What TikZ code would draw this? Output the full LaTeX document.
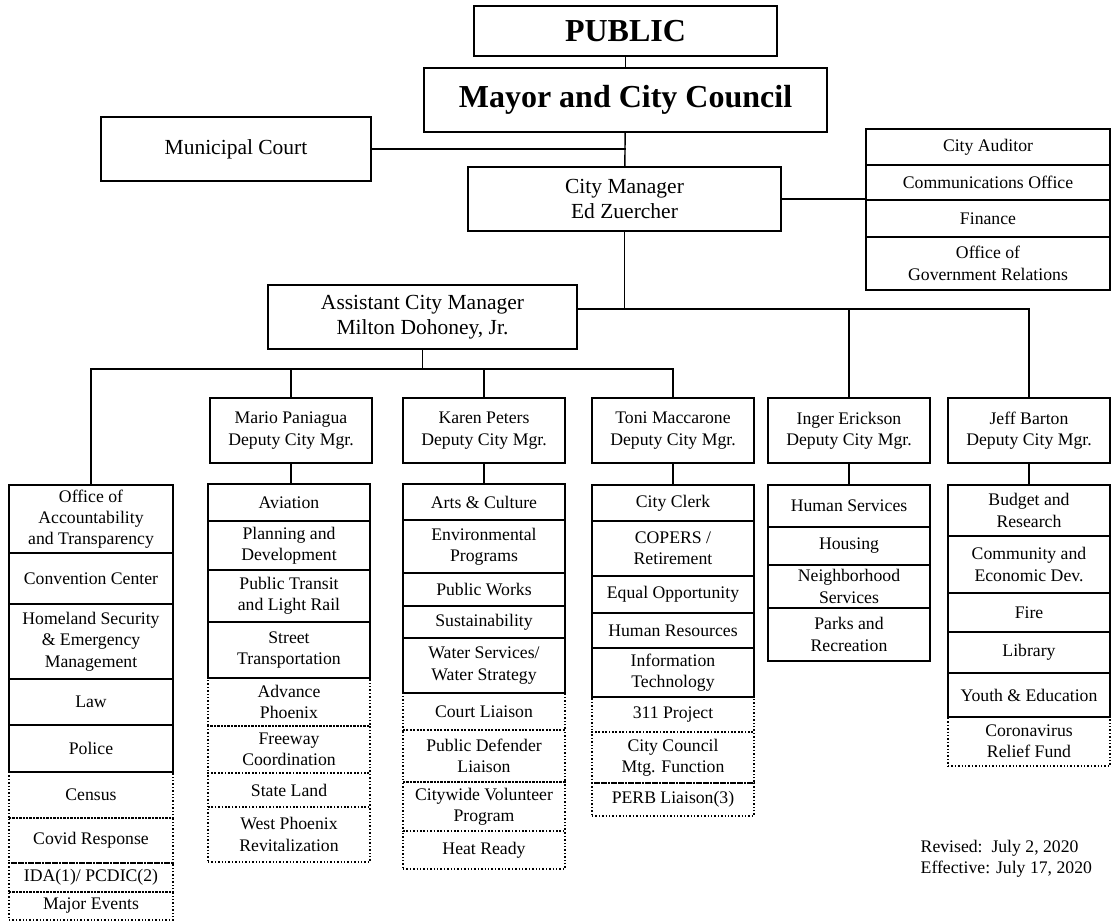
\documentclass[tikz,border=0pt]{standalone}
\usepackage{fontspec}
\setmainfont{Liberation Serif}
\usetikzlibrary{positioning}
\newcommand\bodyfont{\fontsize{17.7}{21.3}\selectfont}
\newcommand\midfont{\fontsize{21.5}{24.7}\selectfont}
\newcommand\headfont{\fontsize{32}{38}\selectfont\bfseries}

\begin{document}
\begin{tikzpicture}[x=1pt,y=-1pt,line width=1.4pt,
  orgbox/.style={draw,outer sep=0pt,inner sep=1pt,align=center,font=\bodyfont,minimum width=162},
  dotbox/.style={orgbox,dotted},
  midbox/.style={orgbox,font=\midfont,minimum height=64},
  headbox/.style={orgbox,font=\headfont}]
\useasboundingbox (0,0) rectangle (1112,921);
% top of the chart
\node[headbox,minimum width=303,minimum height=50] (public) at (625.5,31) {PUBLIC};
\node[headbox,minimum width=403,minimum height=64] (council) at (625.5,100) {Mayor and City Council};
\node[midbox,minimum width=270] (court) at (236,149) {Municipal Court};
\node[midbox,minimum width=313] (cm) at (624.5,199) {City Manager\\Ed Zuercher};
\node[midbox,minimum width=309] (acm) at (422.5,317) {Assistant City Manager\\Milton Dohoney, Jr.};
\draw (public) -- (council);
\draw (council) -- (cm);
\draw (court.east) -- (court.east -| council.south);
% offices of the city manager
\node[orgbox,minimum width=244,minimum height=36,anchor=north] (auditor) at (988,129) {City Auditor};
\node[orgbox,minimum width=244,minimum height=35,below=0pt of auditor] (comm) {Communications Office};
\node[orgbox,minimum width=244,minimum height=37,below=0pt of comm] (finance) {Finance};
\node[orgbox,minimum width=244,minimum height=53,below=0pt of finance] (ogr) {Office of\\Government Relations};
\draw (cm.east) -- (cm.east -| auditor.west);
% deputies
\node[orgbox,minimum height=65] (mario) at (291,430.5) {Mario Paniagua\\Deputy City Mgr.};
\node[orgbox,minimum height=65] (karen) at (484,430.5) {Karen Peters\\Deputy City Mgr.};
\node[orgbox,minimum height=65] (toni) at (673,430.5) {Toni Maccarone\\Deputy City Mgr.};
\node[orgbox,minimum height=65] (inger) at (849,430.5) {Inger Erickson\\Deputy City Mgr.};
\node[orgbox,minimum height=65] (jeff) at (1029,430.5) {Jeff Barton\\Deputy City Mgr.};
\coordinate (busA) at ([yshift=-78pt]cm.south);
\coordinate (busB) at ([yshift=-20pt]acm.south);
\draw (cm.south) -- (busA);
\draw (acm.east |- busA) -- (busA -| jeff.north) -- (jeff.north);
\draw (busA -| inger.north) -- (inger.north);
% office of the assistant city manager
\node[orgbox,minimum width=164,minimum height=68,anchor=north] (oa1) at (91,485) {Office of\\Accountability\\and Transparency};
\node[orgbox,minimum width=164,minimum height=51,below=0pt of oa1] (oa2) {Convention Center};
\node[orgbox,minimum width=164,minimum height=75,below=0pt of oa2] (oa3) {Homeland Security\\\& Emergency\\Management};
\node[orgbox,minimum width=164,minimum height=46,below=0pt of oa3] (oa4) {Law};
\node[orgbox,minimum width=164,minimum height=47,below=0pt of oa4] (oa5) {Police};
\node[dotbox,minimum width=164,minimum height=46,below=0pt of oa5] (oa6) {Census};
\node[dotbox,minimum width=164,minimum height=45,below=0pt of oa6] (oa7) {Covid Response};
\node[dotbox,minimum width=164,minimum height=29,below=0pt of oa7] (oa8) {IDA(1)/ PCDIC(2)};
\node[dotbox,minimum width=164,minimum height=28,below=0pt of oa8] (oa9) {Major Events};
\draw (acm.south) -- (busB);
\draw (oa1.north) |- (busB -| toni.north) -- (toni.north);
\draw (busB -| mario.north) -- (mario.north);
\draw (busB -| karen.north) -- (karen.north);
% Paniagua
\node[orgbox,minimum height=37,anchor=north] (mp1) at (289,484) {Aviation};
\node[orgbox,minimum height=49,below=0pt of mp1] (mp2) {Planning and\\Development};
\node[orgbox,minimum height=52,below=0pt of mp2] (mp3) {Public Transit\\and Light Rail};
\node[orgbox,minimum height=56,below=0pt of mp3] (mp4) {Street\\Transportation};
\node[dotbox,minimum height=48,below=0pt of mp4] (mp5) {Advance\\Phoenix};
\node[dotbox,minimum height=47,below=0pt of mp5] (mp6) {Freeway\\Coordination};
\node[dotbox,minimum height=34,below=0pt of mp6] (mp7) {State Land};
\node[dotbox,minimum height=55,below=0pt of mp7] (mp8) {West Phoenix\\Revitalization};
\draw (mario.south) -- (mario.south |- mp1.north);
% Peters
\node[orgbox,minimum height=36,anchor=north] (kp1) at (484,484) {Arts \& Culture};
\node[orgbox,minimum height=53,below=0pt of kp1] (kp2) {Environmental\\Programs};
\node[orgbox,minimum height=33,below=0pt of kp2] (kp3) {Public Works};
\node[orgbox,minimum height=32,below=0pt of kp3] (kp4) {Sustainability};
\node[orgbox,minimum height=55,below=0pt of kp4] (kp5) {Water Services/\\Water Strategy};
\node[dotbox,minimum height=37,below=0pt of kp5] (kp6) {Court Liaison};
\node[dotbox,minimum height=52,below=0pt of kp6] (kp7) {Public Defender\\Liaison};
\node[dotbox,minimum height=49,below=0pt of kp7] (kp8) {Citywide Volunteer\\Program};
\node[dotbox,minimum height=38,below=0pt of kp8] (kp9) {Heat Ready};
\draw (karen) -- (kp1);
% Maccarone
\node[orgbox,minimum height=36,anchor=north] (tm1) at (673,485) {City Clerk};
\node[orgbox,minimum height=55,below=0pt of tm1] (tm2) {COPERS /\\Retirement};
\node[orgbox,minimum height=37,below=0pt of tm2] (tm3) {Equal Opportunity};
\node[orgbox,minimum height=35,below=0pt of tm3] (tm4) {Human Resources};
\node[orgbox,minimum height=49,below=0pt of tm4] (tm5) {Information\\Technology};
\node[dotbox,minimum height=35,below=0pt of tm5] (tm6) {311 Project};
\node[dotbox,minimum height=51,below=0pt of tm6] (tm7) {City Council\\Mtg. Function};
\node[dotbox,minimum height=33,below=0pt of tm7] (tm8) {PERB Liaison(3)};
\draw (toni) -- (tm1);
% Erickson
\node[orgbox,minimum height=42,anchor=north] (ie1) at (849,485) {Human Services};
\node[orgbox,minimum height=38,below=0pt of ie1] (ie2) {Housing};
\node[orgbox,minimum height=43,below=0pt of ie2] (ie3) {Neighborhood\\Services};
\node[orgbox,minimum height=53,below=0pt of ie3] (ie4) {Parks and\\Recreation};
\draw (inger) -- (ie1);
% Barton
\node[orgbox,minimum height=51,anchor=north] (jb1) at (1029,485) {Budget and\\Research};
\node[orgbox,minimum height=57,below=0pt of jb1] (jb2) {Community and\\Economic Dev.};
\node[orgbox,minimum height=39,below=0pt of jb2] (jb3) {Fire};
\node[orgbox,minimum height=41,below=0pt of jb3] (jb4) {Library};
\node[orgbox,minimum height=44,below=0pt of jb4] (jb5) {Youth \& Education};
\node[dotbox,minimum height=49,below=0pt of jb5] (jb6) {Coronavirus\\Relief Fund};
\draw (jeff) -- (jb1);
% dates
\node[anchor=west,align=left,inner sep=0pt,font=\bodyfont] (dates) at (920,859) {Revised:\ \ July 2, 2020\\Effective: July 17, 2020};
\end{tikzpicture}
\end{document}
